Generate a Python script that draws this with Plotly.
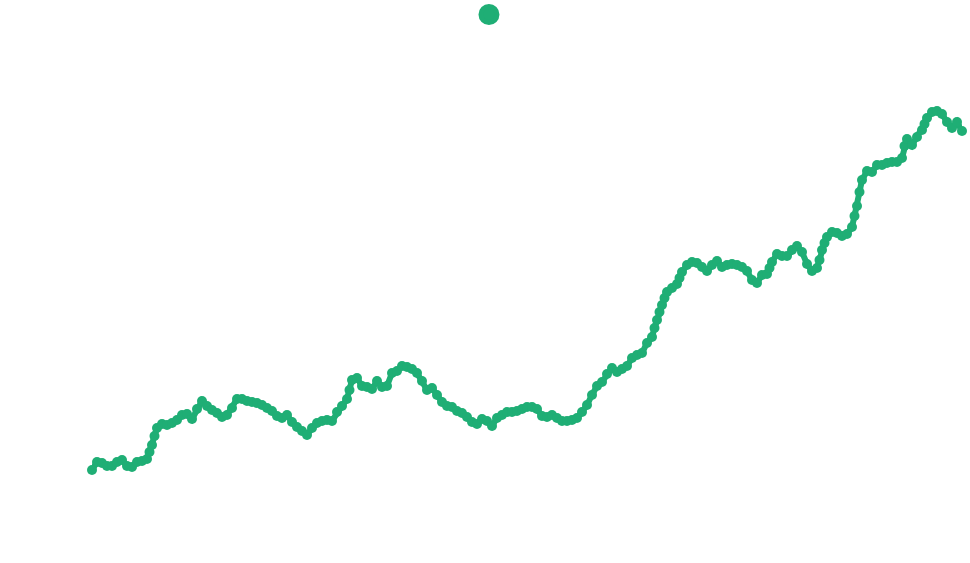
import plotly.graph_objs as go

# sampled every 2 days, plus a few in-between readings on the steep stretches
day = list(range(0, 350, 2))
value = [
    30, 38, 37, 34, 34, 38, 40, 34, 33, 38, 39, 41, 55, 72, 76, 75, 77, 80, 85, 86,
    81, 91, 99, 94, 90, 87, 83, 85, 92, 101, 101, 99, 98, 97, 95, 92, 89, 84, 82, 85,
    78, 73, 69, 65, 72, 77, 79, 80, 79, 88, 94, 101, 120, 122, 114, 113, 111, 119, 113, 114,
    127, 129, 134, 133, 131, 127, 119, 110, 112, 105, 98, 94, 93, 89, 87, 83, 78, 76, 81, 79,
    74, 82, 85, 88, 88, 89, 91, 93, 93, 91, 84, 83, 85, 82, 79, 79, 80, 82, 88, 95,
    105, 114, 118, 126, 132, 128, 131, 134, 142, 145, 147, 157, 163, 180, 195, 208, 212, 216, 228, 235,
    238, 237, 233, 229, 235, 239, 233, 235, 236, 235, 233, 229, 220, 217, 225, 226, 238, 246, 244, 244,
    250, 254, 248, 236, 229, 232, 250, 263, 268, 267, 264, 266, 273, 294, 320, 329, 328, 335, 335, 337,
    338, 338, 342, 361, 355, 363, 370, 382, 388, 389, 386, 378, 372, 378, 369,
]
extra_day = [23, 25, 103, 225, 227, 229, 235, 271, 291, 293, 305, 307, 325, 333]
extra_value = [48, 64, 110, 172, 188, 202, 222, 232, 240, 257, 284, 308, 354, 376]

pts = sorted(zip(day + extra_day, value + extra_value))
xs = [p[0] for p in pts]
ys = [p[1] for p in pts]

color = '#1fae75'

fig = go.Figure()
fig.add_trace(go.Scatter(
    x=xs,
    y=ys,
    mode='lines+markers',
    line=dict(width=6, color=color),
    marker=dict(size=10, color=color),
    cliponaxis=False,
    showlegend=False,
    hoverinfo='x+y'
))
# legend entry only (bigger dot than the data markers)
fig.add_trace(go.Scatter(
    x=[None],
    y=[None],
    mode='markers',
    name='',
    marker=dict(size=16, color=color, line=dict(width=5, color=color)),
    showlegend=True
))
fig.update_layout(
    width=970,
    height=563,
    margin=dict(l=92, r=8, t=0, b=93),
    paper_bgcolor='white',
    plot_bgcolor='white',
    xaxis=dict(visible=False, range=[0, 348]),
    yaxis=dict(visible=False, range=[30, 500]),
    legend=dict(
        orientation='h',
        x=0.4333,
        xanchor='left',
        y=1.0,
        yanchor='top',
        itemsizing='trace',
        font=dict(size=6),
        bgcolor='rgba(0,0,0,0)'
    )
)
fig.write_html("out.html", config={'displayModeBar': False},
               post_script="document.body.style.margin='0';")
